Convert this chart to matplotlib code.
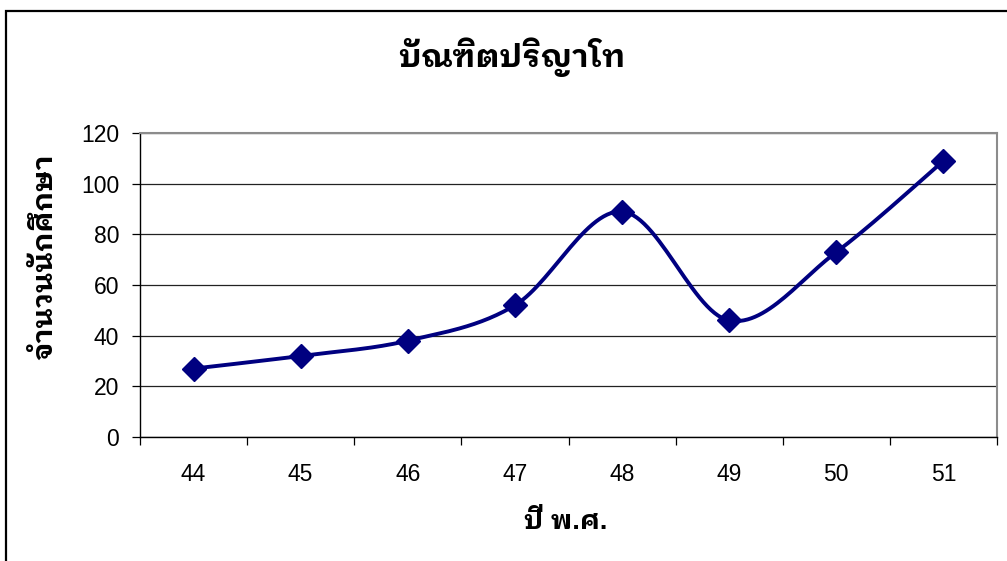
import matplotlib
matplotlib.use("Agg")
import matplotlib.pyplot as plt
from matplotlib.patches import Rectangle
import numpy as np

# data
years = ["44", "45", "46", "47", "48", "49", "50", "51"]
students = [27, 32, 38, 52, 89, 46, 73, 109]

title = "บัณฑิตปริญาโท"
xlabel = "ปี พ.ศ."
ylabel = "จำนวนนักศึกษา"

FONT = ["Liberation Sans", "IBM Plex Sans Thai Looped", "DejaVu Sans"]
NAVY = "#000080"


def smooth(xs, ys, n=30):
    """Catmull-Rom style bezier smoothing, like Excel's smoothed line."""
    xs = np.asarray(xs, float)
    ys = np.asarray(ys, float)
    px = np.concatenate([[xs[0]], xs, [xs[-1]]])
    py = np.concatenate([[ys[0]], ys, [ys[-1]]])
    out_x, out_y = [], []
    t = np.linspace(0, 1, n)
    for i in range(1, len(px) - 2):
        p0 = np.array([px[i], py[i]])
        p3 = np.array([px[i + 1], py[i + 1]])
        c1 = p0 + (p3 - np.array([px[i - 1], py[i - 1]])) / 6
        c2 = p3 - (np.array([px[i + 2], py[i + 2]]) - p0) / 6
        b = ((1 - t) ** 3)[:, None] * p0 + (3 * (1 - t) ** 2 * t)[:, None] * c1 \
            + (3 * (1 - t) * t ** 2)[:, None] * c2 + (t ** 3)[:, None] * p3
        out_x.extend(b[:, 0])
        out_y.extend(b[:, 1])
    return out_x, out_y


fig = plt.figure(figsize=(10.07, 5.61), dpi=100)
ax = fig.add_axes([140 / 1007, 1 - 437 / 561, 857 / 1007, 304 / 561])

x = np.arange(len(years))
sx, sy = smooth(x, students)
ax.plot(sx, sy, color=NAVY, linewidth=2.8, solid_capstyle="round", zorder=3)
ax.plot(x, students, linestyle="none", marker="D", markersize=12,
        color=NAVY, zorder=4, clip_on=False)

ax.set_xlim(-0.5, len(years) - 0.5)
ax.set_ylim(0, 120)
ax.set_yticks(range(0, 121, 20))
ax.yaxis.grid(True, color="#222222", linewidth=0.9)
ax.set_axisbelow(True)

ax.set_xticks(x)
ax.set_xticklabels(years)
ax.set_xticks(np.arange(-0.5, len(years)), minor=True)
ax.tick_params(axis="x", which="major", length=0, pad=19, labelsize=16.5)
ax.tick_params(axis="x", which="minor", length=6, width=0.9, direction="out")
ax.tick_params(axis="y", length=6, width=0.9, direction="out", pad=9, labelsize=16.5)
for lab in ax.get_xticklabels() + ax.get_yticklabels():
    lab.set_family(FONT)

for side in ("left", "bottom"):
    ax.spines[side].set_color("black")
    ax.spines[side].set_linewidth(1.0)
for side in ("top", "right"):
    ax.spines[side].set_color("#8c8c8c")
    ax.spines[side].set_linewidth(1.5)

fig.text(512 / 1007, 1 - 57 / 561, title, ha="center", va="center",
         fontsize=23, fontweight="bold", family=FONT)
fig.text(566 / 1007, 1 - 522 / 561, xlabel, ha="center", va="center",
         fontsize=19.5, fontweight="bold", family=FONT)
fig.text(45 / 1007, 1 - 257 / 561, ylabel, ha="center", va="center",
         rotation=90, fontsize=20.5, fontweight="bold", family=FONT)

# outer chart frame (its right/bottom edges fall outside the picture)
fig.patches.append(Rectangle((6 / 1007, -0.1), 1.2, 1 - 11 / 561 + 0.1,
                             transform=fig.transFigure, fill=False,
                             edgecolor="black", linewidth=1.6))

fig.savefig("out.png", dpi=100)
